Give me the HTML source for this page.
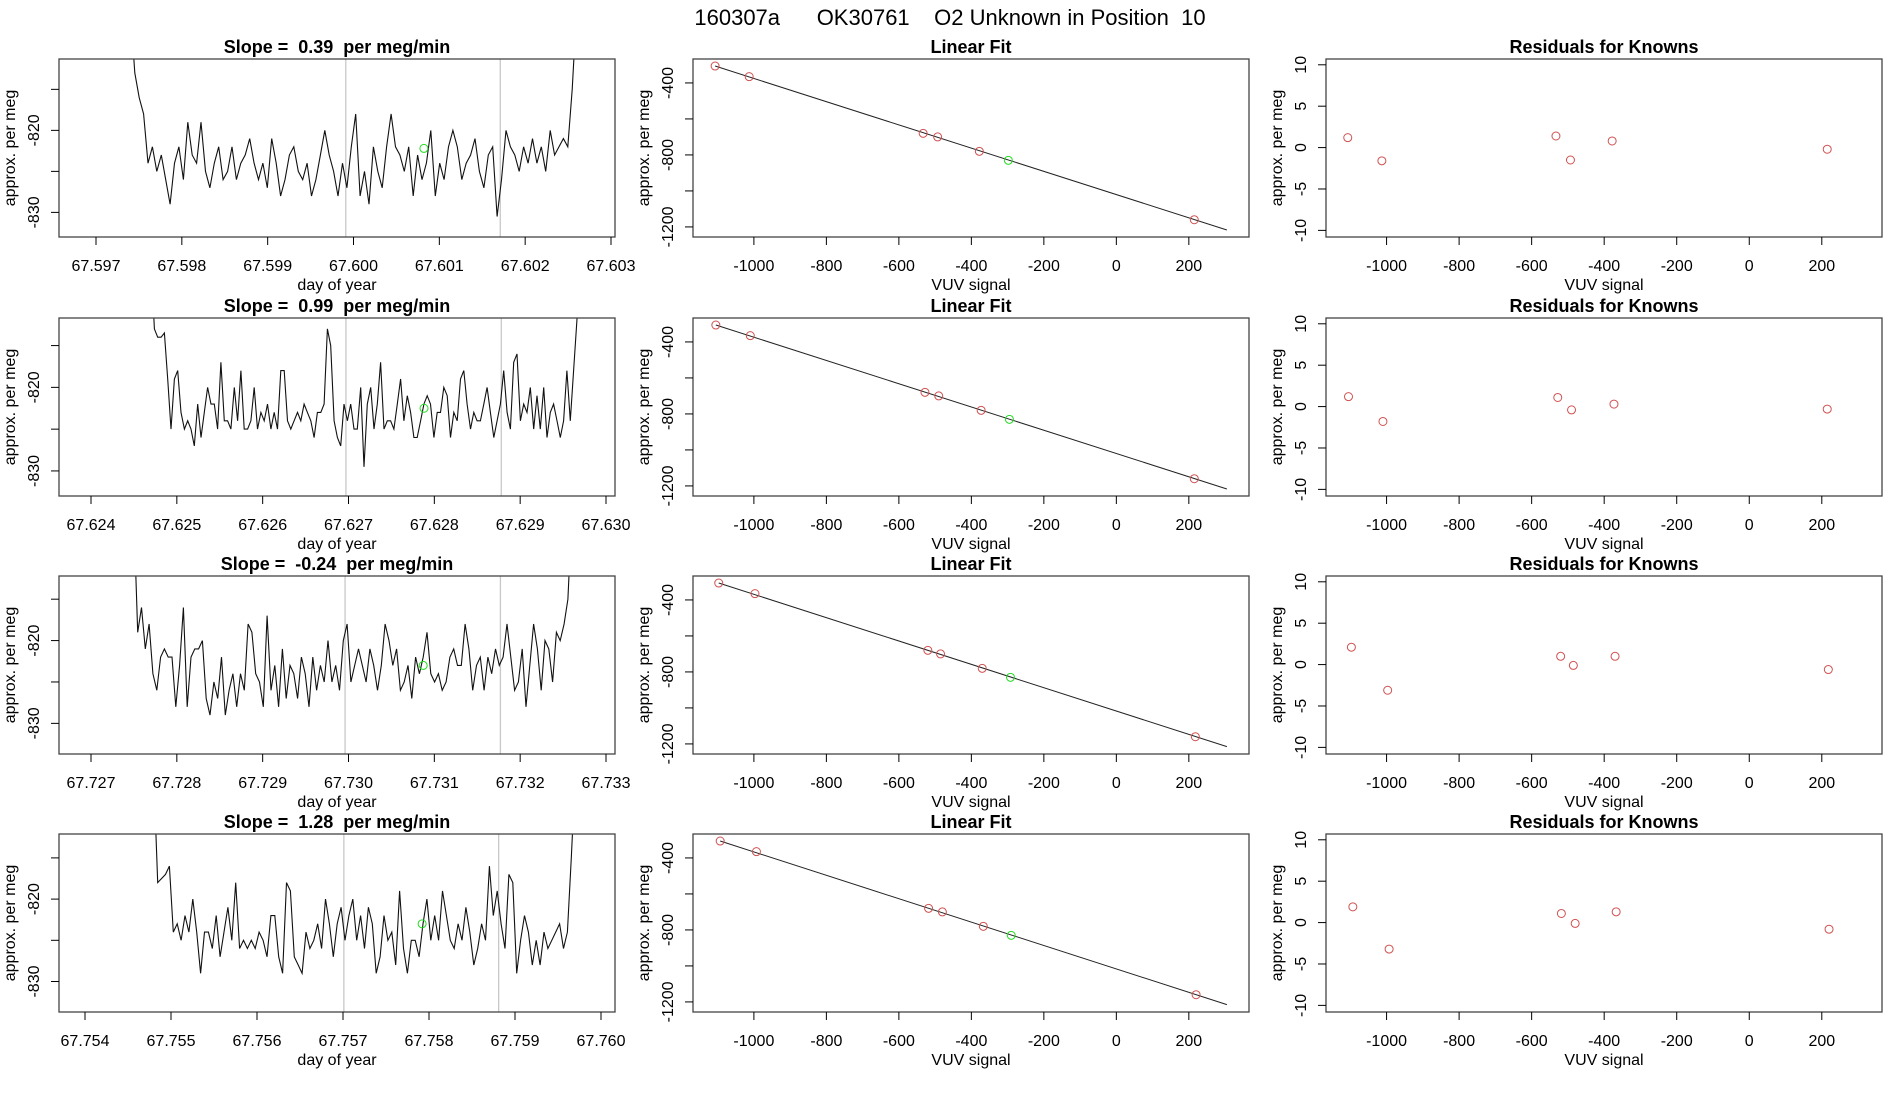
<!DOCTYPE html>
<html><head><meta charset="utf-8">
<style>
html,body{margin:0;padding:0;background:#fff;}
svg{display:block;font-family:"Liberation Sans",sans-serif;}
svg text{white-space:pre;}
</style></head>
<body>
<svg id="chart" width="1900" height="1100" viewBox="0 0 1900 1100" xmlns="http://www.w3.org/2000/svg">
<text x="950" y="25" text-anchor="middle" font-size="22" fill="#000" xml:space="preserve">160307a      OK30761    O2 Unknown in Position  10</text>
</svg>
<script>
// ---------- data ----------
const slopeLabels = ["0.39", "0.99", "-0.24", "1.28"];
const timeTicks = [
  ["67.597","67.598","67.599","67.600","67.601","67.602","67.603"],
  ["67.624","67.625","67.626","67.627","67.628","67.629","67.630"],
  ["67.727","67.728","67.729","67.730","67.731","67.732","67.733"],
  ["67.754","67.755","67.756","67.757","67.758","67.759","67.760"]
];
const timeStart = [67.5974, 67.6247, 67.7275, 67.7548];
const timeEnd = [67.6026, 67.6297, 67.7326, 67.7597];
const greyLine1 = [67.59991, 67.62697, 67.72996, 67.75701];
const greyLine2 = [67.60171, 67.62878, 67.73177, 67.75881];
const greenT = [67.60082, 67.62788, 67.73087, 67.75792];
const greenV = [-822.2, -822.5, -823.0, -823.0];
const series1 = [-805,-813,-816,-818,-824,-822,-825,-823,-826,-829,-824,-822,-826,-819,-823,-824,-819,-825,-827,-824,-822,-826,-825,-822,-826,-824,-823,-821,-824,-826,-824,-827,-821,-824,-828,-826,-823,-822,-825,-826,-824,-828,-826,-823,-820,-823,-825,-828,-824,-827,-822,-818,-828,-825,-829,-822,-825,-827,-822,-818,-822,-823,-825,-822,-828,-823,-826,-824,-820,-828,-824,-826,-822,-820,-822,-826,-824,-823,-821,-825,-827,-823,-822,-830.5,-826,-820,-822,-823,-825,-822,-824,-821,-824,-822,-825,-820,-823,-822,-821,-822,-815,-805];
const series2 = [-805,-813,-814,-814,-813.5,-819,-825,-819,-818,-823,-825,-824,-825,-827,-822,-826,-823,-820,-822,-822,-825,-817,-824,-824,-825,-820,-824,-818,-825,-825,-824,-820,-825,-823,-824,-822,-825,-823,-825,-818,-818,-824,-825,-824,-823,-824,-822,-823,-824,-826,-823,-823,-822,-813,-815,-824,-826,-827,-822,-824,-822,-825,-825,-820,-829.5,-822,-820,-825,-822,-817,-825,-824,-824,-825,-822,-819,-824,-821,-823,-826,-826,-824,-822,-821,-822,-826,-823,-823,-820,-821,-826,-823,-824,-819,-818,-822,-825,-823,-824,-824,-822,-820,-823,-826,-824,-822,-818,-823,-825,-817,-816,-824,-822,-823,-820,-825,-821,-825,-820,-826,-823,-822,-824,-826,-824,-818,-824,-818,-812,-805];
const series3 = [-805,-819,-816,-821,-818,-824,-826,-822,-821,-822,-822,-828,-823,-816,-828,-822,-821,-821,-820,-827,-829,-825,-827,-822,-829,-826,-824,-828,-824,-826,-818,-819,-824,-825,-828,-817,-826,-823,-828,-821,-827,-823,-824,-827,-822,-824,-828,-822,-826,-823,-825,-820,-825,-823,-826,-820,-818,-825,-823,-821,-823,-825,-821,-823,-826,-823,-818,-820,-823,-821,-826,-825,-823,-827,-822,-824,-822,-819,-824,-825,-824,-826,-825,-822,-821,-823,-823,-818,-821,-826,-823,-822,-826,-822,-824,-821,-823,-822,-818,-822,-826,-825,-821,-828,-823,-818,-821,-826,-820,-821,-825,-819,-820,-818,-815,-805];
const series4 = [-805,-818,-817.5,-817,-816,-824,-823,-825,-822,-824,-820,-824,-829,-824,-824,-826,-822,-827,-824,-821,-825,-818,-826,-825,-826,-825,-826,-824,-825,-827,-822,-822,-827,-829,-818,-819,-827,-828,-829,-824,-826,-825,-823,-826,-820,-823,-827,-823,-821,-825,-822,-820,-825,-822,-826,-821,-823,-829,-827,-822,-825,-824,-828,-819,-826,-829,-825,-825,-827,-823,-820,-825,-822,-825,-819,-822,-825,-826,-823,-825,-821,-824,-828,-826,-823,-825,-816,-822,-819,-823,-826,-817,-818,-829,-825,-822,-824,-828,-825,-828,-824,-826,-825,-824,-823,-826,-824,-815,-805];
const allSeries = [series1, series2, series3, series4];

const fitX = [
  [-1107,-1013,-533,-493,-378,215],
  [-1105,-1010,-528,-490,-373,215],
  [-1097,-997,-520,-485,-370,218],
  [-1093,-993,-518,-480,-367,220]
];
const fitY = [
  [-306,-365,-680,-700,-780,-1160],
  [-306,-365,-680,-700,-780,-1160],
  [-306,-365,-680,-700,-780,-1160],
  [-306,-365,-680,-700,-780,-1160]
];
const unkX = [-298, -295, -292, -290];
const unkY = [-830, -830, -830, -830];
const lineStart = [[-1107,-306],[-1105,-306],[-1097,-306],[-1093,-306]];
const lineEnd = [[305,-1217],[305,-1217],[305,-1215],[305,-1215]];
const residY = [
  [1.2,-1.6,1.4,-1.5,0.8,-0.2],
  [1.2,-1.8,1.1,-0.4,0.3,-0.3],
  [2.1,-3.1,1.0,-0.1,1.0,-0.6],
  [1.9,-3.2,1.1,-0.1,1.3,-0.8]
];
const vuvTicks = [-1000,-800,-600,-400,-200,0,200];
const fitYTicks = [-400,-600,-800,-1000,-1200];
const fitYLabels = ["-400","","-800","","-1200"];
const resYTicks = [10,5,0,-5,-10];
const tsYTicks = [-815,-820,-825,-830];
const tsYLabels = ["","-820","","-830"];

// ---------- layout ----------
const NS = "http://www.w3.org/2000/svg";
const svg = document.getElementById("chart");
const rowTop = [59, 318, 576, 834];
const boxH = 178;
const cols = [[59,615],[693,1249],[1326,1882]];
const tsXTickPx = [[96,611],[91,606],[91,606],[85,601]];
const tsYRange = [[-833,-811.3],[-833,-811.7],[-833.7,-812.2],[-833.7,-812.1]];

function mk(tag, attrs, parent){
  const e = document.createElementNS(NS, tag);
  for (const k in attrs) e.setAttribute(k, attrs[k]);
  (parent||svg).appendChild(e);
  return e;
}
function txt(s, x, y, size, extra, parent){
  const t = mk("text", Object.assign({x:x, y:y, "font-size":size, "text-anchor":"middle", fill:"#000"}, extra||{}), parent);
  t.textContent = s;
  return t;
}

function panelFrame(g, x0, x1, top, title, xTitle){
  const b = mk("rect", {x:x0, y:top, width:x1-x0, height:boxH, fill:"none", stroke:"#444", "stroke-width":1.3}, g);
  
  
  const t = txt(title, (x0+x1)/2, top-6, 18, {"font-weight":"bold"}, g);
  
  
  const xt = txt(xTitle, (x0+x1)/2, top+boxH+53, 16, {}, g);
  
  
  const yx = x0 - 44, yy = top + boxH/2;
  const yt = txt("approx. per meg", yx, yy, 16, {transform:"rotate(-90 "+yx+" "+yy+")"}, g);
  
  
}
function xTick(g, px, bottom, label){
  mk("line", {x1:px, y1:bottom, x2:px, y2:bottom+8, stroke:"#000", "stroke-width":1}, g);
  const t = txt(label, px, bottom+34, 16, {}, g);
  
  
}
function yTick(g, py, left, label){
  mk("line", {x1:left, y1:py, x2:left-8, y2:py, stroke:"#000", "stroke-width":1}, g);
  if (label !== "") {
    const lx = left - 20;
    const t = txt(label, lx, py, 16, {transform:"rotate(-90 "+lx+" "+py+")"}, g);
    
    
  }
}

for (let r = 0; r < 4; r++){
  const top = rowTop[r], bottom = top + boxH;

  // ---- time series panel ----
  const g1 = mk("g", {});
  
  
  const [x0, x1] = cols[0];
  const t0 = parseFloat(timeTicks[r][0]), t6 = parseFloat(timeTicks[r][6]);
  const [p0, p6] = tsXTickPx[r];
  const sx = t => p0 + (t - t0) / (t6 - t0) * (p6 - p0);
  const [ymin, ymax] = tsYRange[r];
  const sy = v => bottom - (v - ymin) / (ymax - ymin) * boxH;
  const clipId = "clip" + r;
  const cp = mk("clipPath", {id:clipId}, g1);
  mk("rect", {x:x0, y:top, width:x1-x0, height:boxH}, cp);
  [greyLine1[r], greyLine2[r]].forEach(v => {
    const l = mk("line", {x1:sx(v), x2:sx(v), y1:top, y2:bottom, stroke:"#c8c8c8", "stroke-width":1.3}, g1);
    
    
  });
  const s = allSeries[r];
  const n = s.length;
  const pts = s.map((v, i) => {
    const t = timeStart[r] + (timeEnd[r] - timeStart[r]) * i / (n - 1);
    return sx(t).toFixed(1) + "," + sy(v).toFixed(1);
  }).join(" ");
  const pl = mk("polyline", {points:pts, fill:"none", stroke:"#111", "stroke-width":1.1, "clip-path":"url(#"+clipId+")"}, g1);
  
  
  const gc = mk("circle", {cx:sx(greenT[r]), cy:sy(greenV[r]), r:4, fill:"none", stroke:"#22dd22", "stroke-width":1}, g1);
  
  
  panelFrame(g1, x0, x1, top, "Slope =  " + slopeLabels[r] + "  per meg/min", "day of year");
  timeTicks[r].forEach(lbl => xTick(g1, sx(parseFloat(lbl)), bottom, lbl));
  tsYTicks.forEach((v, i) => yTick(g1, sy(v), x0, tsYLabels[i]));

  // ---- linear fit panel ----
  const g2 = mk("g", {});
  
  
  const [a0, a1] = cols[1];
  const fx = v => a0 + (v + 1168) / (366 + 1168) * (a1 - a0);
  const fy = v => bottom - (v + 1256) / (-267 + 1256) * boxH;
  const fl = mk("line", {x1:fx(lineStart[r][0]), y1:fy(lineStart[r][1]), x2:fx(lineEnd[r][0]), y2:fy(lineEnd[r][1]), stroke:"#222", "stroke-width":1}, g2);
  
  
  fitX[r].forEach((v, i) => {
    const c = mk("circle", {cx:fx(v), cy:fy(fitY[r][i]), r:4, fill:"none", stroke:"#d05050", "stroke-width":1}, g2);
    
    
  });
  const uc = mk("circle", {cx:fx(unkX[r]), cy:fy(unkY[r]), r:4, fill:"none", stroke:"#22dd22", "stroke-width":1}, g2);
  
  
  panelFrame(g2, a0, a1, top, "Linear Fit", "VUV signal");
  vuvTicks.forEach(v => xTick(g2, fx(v), bottom, String(v)));
  fitYTicks.forEach((v, i) => yTick(g2, fy(v), a0, fitYLabels[i]));

  // ---- residuals panel ----
  const g3 = mk("g", {});
  
  
  const [b0, b1] = cols[2];
  const rx = v => b0 + (v + 1167) / (366 + 1167) * (b1 - b0);
  const ry = v => bottom - (v + 10.8) / (10.7 + 10.8) * boxH;
  fitX[r].forEach((v, i) => {
    const c = mk("circle", {cx:rx(v), cy:ry(residY[r][i]), r:4, fill:"none", stroke:"#d05050", "stroke-width":1}, g3);
    
    
  });
  panelFrame(g3, b0, b1, top, "Residuals for Knowns", "VUV signal");
  vuvTicks.forEach(v => xTick(g3, rx(v), bottom, String(v)));
  resYTicks.forEach(v => yTick(g3, ry(v), b0, String(v)));
}
</script>
</body></html>
